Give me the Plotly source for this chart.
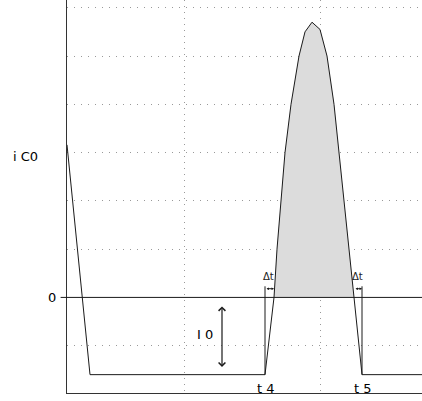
import plotly.graph_objects as go

# Current waveform i_C0 (time in arbitrary units, current in grid units)
curve_x = [0, 23, 198, 207, 210, 214, 218, 224, 232, 238, 245, 253, 260, 267, 272, 277, 282, 287, 295, 355]
curve_y = [3.16, -1.6, -1.6, 0, 1.0, 2.0, 3.0, 4.0, 5.0, 5.5, 5.7, 5.55, 5.0, 4.0, 3.0, 2.0, 1.0, 0, -1.6, -1.6]

# positive lobe (shaded)
lobe_x = [207, 210, 214, 218, 224, 232, 238, 245, 253, 260, 267, 272, 277, 282, 287]
lobe_y = [0, 1.0, 2.0, 3.0, 4.0, 5.0, 5.5, 5.7, 5.55, 5.0, 4.0, 3.0, 2.0, 1.0, 0]

t_marks = [198, 295]          # t4, t5
t_labels = ["t 4", "t 5"]
mark_top = 0.23
dt_y = 0.18
dt_pairs = [(198, 207), (287, 295)]
i0_x = 155
i0_range = (-0.155, -1.44)

x_grid = [117, 253]
y_grid = [-1, 1, 2, 3, 4, 5, 6]

LINE = "#1a1a1a"
FONT = "DejaVu Sans"
TXT = dict(family=FONT, size=13, color="#000")

fig = go.Figure()
fig.add_trace(go.Scatter(x=lobe_x, y=lobe_y, mode="lines", fill="tozeroy",
                         fillcolor="#dcdcdc", line=dict(width=0, color="rgba(0,0,0,0)"),
                         hoverinfo="skip", showlegend=False))
fig.add_trace(go.Scatter(x=curve_x, y=curve_y, mode="lines",
                         line=dict(color=LINE, width=1), showlegend=False))

shapes = []
# zero line with small tick outside
shapes.append(dict(type="line", xref="paper", yref="y", x0=-0.018, x1=1, y0=0, y1=0,
                   line=dict(color=LINE, width=1)))
for xm in t_marks:
    shapes.append(dict(type="line", xref="x", yref="y", x0=xm, x1=xm, y0=-1.6, y1=mark_top,
                       line=dict(color=LINE, width=1)))

annotations = []
for a, b in dt_pairs:
    annotations.append(dict(x=b, y=dt_y, ax=a, ay=dt_y, xref="x", yref="y", axref="x", ayref="y",
                            text="", showarrow=True, arrowhead=2, arrowsize=0.5, arrowwidth=1,
                            arrowside="end+start", arrowcolor=LINE))
    annotations.append(dict(x=(a + b) / 2 - 1, y=0.43, xref="x", yref="y", text="Δt", showarrow=False,
                            xanchor="center", font=dict(family=FONT, size=10, color="#222")))
annotations.append(dict(x=i0_x, y=i0_range[1], ax=i0_x, ay=i0_range[0], xref="x", yref="y",
                        axref="x", ayref="y", text="", showarrow=True, arrowhead=4, arrowsize=1.1,
                        arrowwidth=1.2, arrowside="end+start", arrowcolor=LINE))
annotations.append(dict(x=137.5, y=-0.76, xref="x", yref="y", text="I 0", showarrow=False,
                        xanchor="center", font=TXT))
for xm, lab in zip(t_marks, t_labels):
    annotations.append(dict(x=xm + 0.5, y=-1.88, xref="x", yref="y", text=lab, showarrow=False,
                            xanchor="center", font=TXT))
annotations.append(dict(x=-0.118, y=2.91, xref="paper", yref="y", text="i C0", showarrow=False,
                        xanchor="center", font=TXT))
annotations.append(dict(x=-0.041, y=0, xref="paper", yref="y", text="0", showarrow=False,
                        xanchor="center", font=TXT))

fig.update_layout(
    width=422, height=401,
    margin=dict(l=67, r=0, t=0, b=8),
    paper_bgcolor="white", plot_bgcolor="white",
    shapes=shapes, annotations=annotations,
    xaxis=dict(range=[0, 355], tickvals=x_grid, showticklabels=False, ticks="",
               showgrid=True, gridcolor="#999", griddash="1px,5px", gridwidth=1,
               zeroline=False, showline=True, linecolor="#333", linewidth=1, mirror=False,
               fixedrange=True),
    yaxis=dict(range=[-1.98, 6.16], tickvals=y_grid, showticklabels=False, ticks="",
               showgrid=True, gridcolor="#999", griddash="1px,6px", gridwidth=1,
               zeroline=False, showline=True, linecolor="#333", linewidth=1,
               fixedrange=True),
)

fig.write_html("out.html", config={"displayModeBar": False},
               post_script="document.body.style.margin='0';document.body.style.overflow='hidden';")
